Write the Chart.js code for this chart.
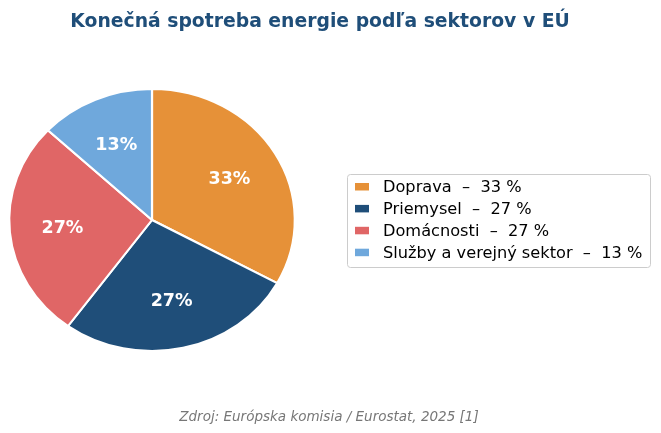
<!DOCTYPE html>
<html>
<head>
<meta charset="utf-8">
<script src="https://cdn.jsdelivr.net/npm/chart.js@4.4.0/dist/chart.umd.min.js"></script>
<style>
  html, body { margin: 0; padding: 0; background: #fff; }
</style>
</head>
<body>
<canvas id="myChart" width="661" height="433"></canvas>
<script>
const chartTitle = 'Konečná spotreba energie podľa sektorov v EÚ';
const sourceNote = 'Zdroj: Európska komisia / Eurostat, 2025 [1]';
const sectors = ['Doprava', 'Priemysel', 'Domácnosti', 'Služby a verejný sektor'];
const shares = [33, 27, 27, 13];
const colors = ['#E69138', '#1F4E79', '#E06666', '#6FA8DC'];

// the original pie is a bit wider than tall
const stretchX = 1.09;
const font = '"DejaVu Sans", "Noto Sans", sans-serif';

const ovalPie = {
    id: 'ovalPie',
    beforeDatasetsDraw(chart) {
        const arc = chart.getDatasetMeta(0).data[0];
        const ctx = chart.ctx;
        ctx.save();
        ctx.translate(arc.x, 0);
        ctx.scale(stretchX, 1);
        ctx.translate(-arc.x, 0);
    },
    afterDatasetsDraw(chart) {
        chart.ctx.restore();
    }
};

const textLayer = {
    id: 'textLayer',
    afterDraw(chart) {
        const ctx = chart.ctx;
        const meta = chart.getDatasetMeta(0);
        ctx.save();

        // percentages inside the slices
        ctx.fillStyle = '#ffffff';
        ctx.font = 'bold 17.5px ' + font;
        ctx.textAlign = 'center';
        ctx.textBaseline = 'middle';
        meta.data.forEach(function(arc, i) {
            const mid = (arc.startAngle + arc.endAngle) / 2;
            const r = arc.outerRadius * 0.63;
            ctx.fillText(shares[i] + '%', arc.x + Math.cos(mid) * r * stretchX, arc.y + Math.sin(mid) * r + 1);
        });

        // title
        ctx.textBaseline = 'alphabetic';
        ctx.fillStyle = '#1F4E79';
        ctx.font = 'bold 18.8px ' + font;
        ctx.fillText(chartTitle, 320, 26.5);

        // source
        ctx.fillStyle = '#777777';
        ctx.font = 'italic 13.5px ' + font;
        ctx.fillText(sourceNote, 329, 421);

        // legend
        ctx.strokeStyle = '#cccccc';
        ctx.lineWidth = 1;
        ctx.fillStyle = '#ffffff';
        ctx.beginPath();
        ctx.roundRect(347.5, 174.5, 303, 93, 3);
        ctx.fill();
        ctx.stroke();

        ctx.textAlign = 'left';
        ctx.font = '16.2px ' + font;
        sectors.forEach(function(name, i) {
            const base = 192.3 + i * 21.9;
            ctx.fillStyle = colors[i];
            ctx.fillRect(355, base - 9.3, 14, 7.5);
            ctx.fillStyle = '#000000';
            ctx.fillText(name + '  –  ' + shares[i] + ' %', 383, base);
        });

        ctx.restore();
    }
};

const ctx = document.getElementById('myChart').getContext('2d');
const myChart = new Chart(ctx, {
    type: 'pie',
    data: {
        labels: sectors,
        datasets: [{
            data: shares,
            backgroundColor: colors,
            borderColor: '#ffffff',
            borderWidth: 2,
            clip: false
        }]
    },
    options: {
        responsive: false,
        animation: false,
        events: [],
        layout: {
            padding: { left: 20, right: 377, top: 88, bottom: 81 }
        },
        plugins: {
            legend: { display: false },
            tooltip: { enabled: false },
            title: { display: false }
        }
    },
    plugins: [ovalPie, textLayer]
});
</script>
</body>
</html>
